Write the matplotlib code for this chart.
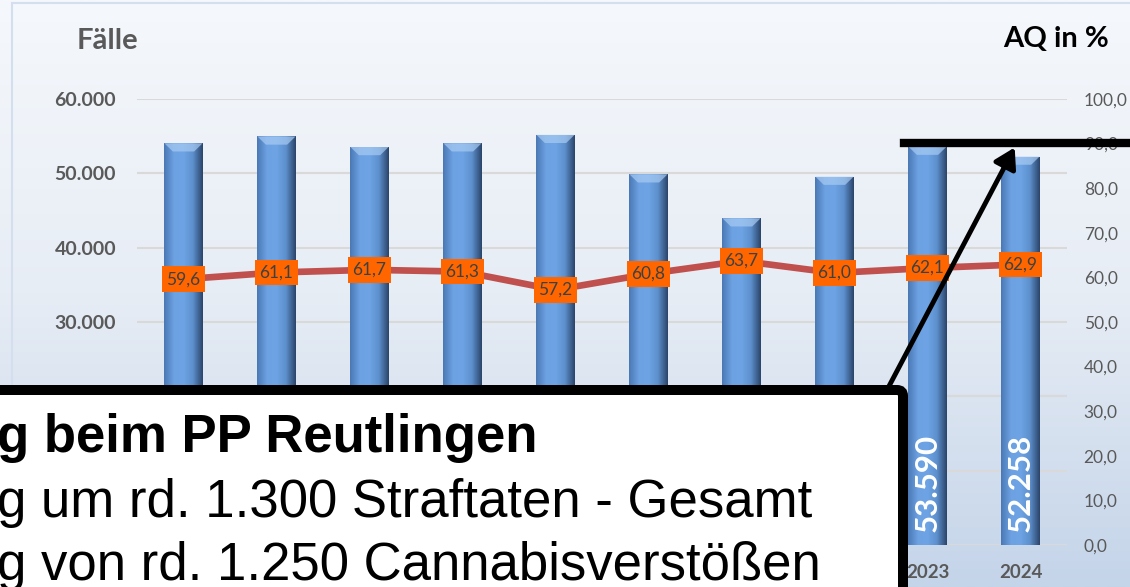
import numpy as np
import matplotlib.pyplot as plt
from matplotlib.patches import FancyBboxPatch, FancyArrowPatch, Rectangle, Polygon
from matplotlib.lines import Line2D
from matplotlib.colors import LinearSegmentedColormap

plt.rcParams['font.family'] = ['Lato', 'DejaVu Sans']

years = ['2015', '2016', '2017', '2018', '2019', '2020', '2021', '2022', '2023', '2024']
faelle = [54040, 54960, 53540, 54040, 55180, 49870, 43950, 49550, 53590, 52258]
aq = [59.6, 61.1, 61.7, 61.3, 57.2, 60.8, 63.7, 61.0, 62.1, 62.9]

left_ticks = [0, 10000, 20000, 30000, 40000, 50000, 60000]
right_ticks = [0, 10, 20, 30, 40, 50, 60, 70, 80, 90, 100]

box_lines = ['g beim PP Reutlingen',
             'g um rd. 1.300 Straftaten - Gesamt',
             'g von rd. 1.250 Cannabisverstößen']

W, H = 1130, 587
fig = plt.figure(figsize=(W / 100, H / 100), dpi=100)


def px(x, y):
    # pixel position (from top left) -> inches for dpi_scale_trans
    return (x / 100, (H - y) / 100)


# background gradient
bg = fig.add_axes([0, 0, 1, 1], zorder=-10)
bg_cmap = LinearSegmentedColormap.from_list('bg', ['#F5F8FC', '#E7EDF5', '#C4D4E9'])
bg.imshow(np.linspace(0, 1, 256).reshape(-1, 1), aspect='auto', cmap=bg_cmap,
          extent=[0, 1, 0, 1], origin='upper')
bg.axis('off')
fig.add_artist(Rectangle(px(12, 600), 11.5, 5.97, transform=fig.dpi_scale_trans,
                         fill=False, ec='#D3DFEE', lw=1.5))

ax = fig.add_axes([137 / W, (H - 545) / H, 930 / W, 446 / H])
ax.patch.set_alpha(0)
x = np.arange(len(years))

bars = ax.bar(x, faelle, width=0.41, color='#6A9FDF', zorder=2)
bar_cmap = LinearSegmentedColormap.from_list(
    'bar', ['#4B79B5', '#6CA1E2', '#6EA4E5', '#5D8FCC', '#2B466C'])
for b in bars:
    x0, w, h = b.get_x(), b.get_width(), b.get_height()
    im = ax.imshow(np.linspace(0, 1, 64).reshape(1, -1), cmap=bar_cmap, aspect='auto',
                   extent=[x0, x0 + w, 0, h], zorder=2.1)
    im.set_clip_path(b)
    d = 1100
    ax.add_patch(Polygon([(x0, h), (x0 + w, h), (x0 + w * 0.78, h - d), (x0 + w * 0.22, h - d)],
                         closed=True, fc='#A8CBF3', ec='none', alpha=0.7, zorder=2.2))

for xi, v in zip(x, faelle):
    ax.annotate(f"{v:,}".replace(',', '.'), (xi, 0), xytext=(0, 9), textcoords='offset points',
                rotation=90, ha='center', va='bottom', color='white', fontweight='bold',
                fontsize=22.5, zorder=5)

ax.set_xlim(-0.5, len(years) - 0.5)
ax.set_ylim(0, 60000)
ax.set_yticks(left_ticks, labels=[f"{t:,}".replace(',', '.') for t in left_ticks],
              fontweight='bold', fontsize=14, color='#595959')
ax.set_xticks(x, labels=years, fontweight='bold', fontsize=13.5, color='#595959')
ax.tick_params(axis='y', length=0, pad=15)
ax.tick_params(axis='x', length=0, pad=14)
ax.grid(axis='y', color='#D9D9D9', lw=1.5, zorder=0)
ax.set_axisbelow(True)
for s in ax.spines.values():
    s.set_visible(False)

ax2 = ax.twinx()
ax2.set_ylim(0, 100)
ax2.plot(x, aq, color='#C0504D', lw=4.8, zorder=3, solid_capstyle='round')
for xi, v in zip(x, aq):
    ax2.text(xi, v, f"{v:.1f}".replace('.', ','), ha='center', va='center', fontsize=12.5,
             color='#404040', zorder=4,
             bbox=dict(boxstyle='square,pad=0.28', fc='#FF6600', ec='none'))
ax2.set_yticks(right_ticks, labels=[f"{t:.1f}".replace('.', ',') for t in right_ticks],
               fontsize=12.5, color='#595959')
ax2.tick_params(axis='y', length=0, pad=12)
for s in ax2.spines.values():
    s.set_visible(False)

fig.text(*px(77, 49), 'Fälle', transform=fig.dpi_scale_trans, fontsize=21,
         fontweight='bold', color='#595959', va='baseline')
fig.text(*px(1109, 47), 'AQ in %', transform=fig.dpi_scale_trans, fontsize=21,
         fontweight='bold', color='black', va='baseline', ha='right')

# overlay: marker line, arrow and text box
fig.add_artist(Line2D([px(904, 0)[0], px(1140, 0)[0]], [px(0, 143)[1]] * 2,
                      transform=fig.dpi_scale_trans, color='black', lw=6, zorder=20))
fig.add_artist(FancyArrowPatch(px(887, 390), px(1016, 145), transform=fig.dpi_scale_trans,
                               arrowstyle='-|>,head_length=0.5,head_width=0.3',
                               mutation_scale=24, lw=3.5, color='black', zorder=20))
fig.add_artist(FancyBboxPatch(px(-20, 640), 9.23, 2.5, transform=fig.dpi_scale_trans,
                              boxstyle='round,pad=0,rounding_size=0.06',
                              fc='white', ec='black', lw=7.2, zorder=20))
for i, (txt, base) in enumerate(zip(box_lines, [452, 517, 580])):
    fig.text(*px(-3, base), txt, transform=fig.dpi_scale_trans, family='Liberation Sans',
             fontsize=38, fontweight='bold' if i == 0 else 'normal', color='black',
             va='baseline', zorder=21)

fig.savefig('out.png', dpi=100)
